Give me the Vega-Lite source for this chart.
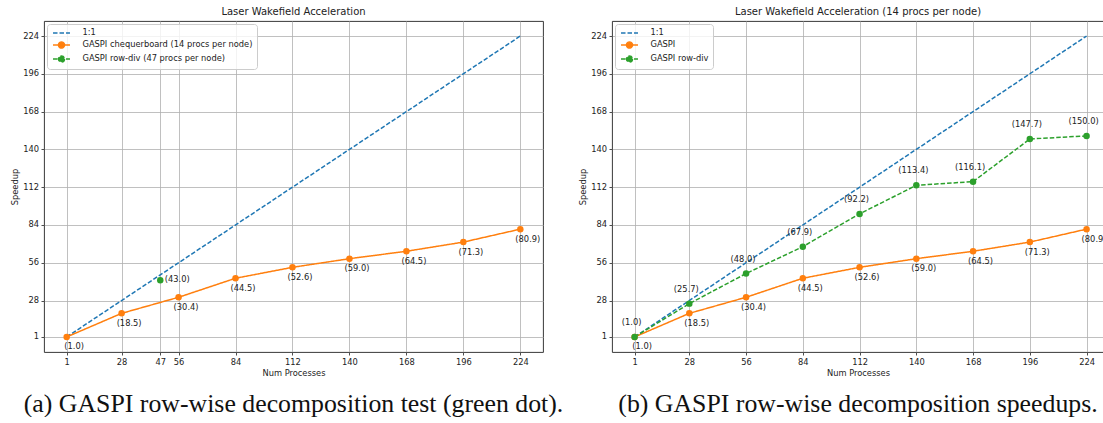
{
  "$schema": "https://vega.github.io/schema/vega-lite/v6.json",
  "padding": {"left": 10, "top": 6, "right": 0, "bottom": 0},
  "spacing": 14,
  "datasets": {
    "left": [
      {"n": 1, "speedup": 1, "series": "1:1"},
      {"n": 224, "speedup": 224, "series": "1:1"},
      {"n": 1, "speedup": 1.0, "series": "GASPI chequerboard (14 procs per node)"},
      {"n": 28, "speedup": 18.5, "series": "GASPI chequerboard (14 procs per node)"},
      {"n": 56, "speedup": 30.4, "series": "GASPI chequerboard (14 procs per node)"},
      {"n": 84, "speedup": 44.5, "series": "GASPI chequerboard (14 procs per node)"},
      {"n": 112, "speedup": 52.6, "series": "GASPI chequerboard (14 procs per node)"},
      {"n": 140, "speedup": 59.0, "series": "GASPI chequerboard (14 procs per node)"},
      {"n": 168, "speedup": 64.5, "series": "GASPI chequerboard (14 procs per node)"},
      {"n": 196, "speedup": 71.3, "series": "GASPI chequerboard (14 procs per node)"},
      {"n": 224, "speedup": 80.9, "series": "GASPI chequerboard (14 procs per node)"},
      {"n": 47, "speedup": 43.0, "series": "GASPI row-div (47 procs per node)"}
    ],
    "right": [
      {"n": 1, "speedup": 1, "series": "1:1"},
      {"n": 224, "speedup": 224, "series": "1:1"},
      {"n": 1, "speedup": 1.0, "series": "GASPI"},
      {"n": 28, "speedup": 18.5, "series": "GASPI"},
      {"n": 56, "speedup": 30.4, "series": "GASPI"},
      {"n": 84, "speedup": 44.5, "series": "GASPI"},
      {"n": 112, "speedup": 52.6, "series": "GASPI"},
      {"n": 140, "speedup": 59.0, "series": "GASPI"},
      {"n": 168, "speedup": 64.5, "series": "GASPI"},
      {"n": 196, "speedup": 71.3, "series": "GASPI"},
      {"n": 224, "speedup": 80.9, "series": "GASPI"},
      {"n": 1, "speedup": 1.0, "series": "GASPI row-div"},
      {"n": 28, "speedup": 25.7, "series": "GASPI row-div"},
      {"n": 56, "speedup": 48.0, "series": "GASPI row-div"},
      {"n": 84, "speedup": 67.9, "series": "GASPI row-div"},
      {"n": 112, "speedup": 92.2, "series": "GASPI row-div"},
      {"n": 140, "speedup": 113.4, "series": "GASPI row-div"},
      {"n": 168, "speedup": 116.1, "series": "GASPI row-div"},
      {"n": 196, "speedup": 147.7, "series": "GASPI row-div"},
      {"n": 224, "speedup": 150.0, "series": "GASPI row-div"}
    ]
  },
  "resolve": {
    "scale": {"color": "independent", "strokeDash": "independent"},
    "legend": {"color": "independent", "strokeDash": "independent"}
  },
  "hconcat": [
    {
      "spacing": 13,
      "vconcat": [
        {
          "title": "Laser Wakefield Acceleration",
          "width": 499,
          "height": 331,
          "data": {"name": "left"},
          "transform": [{"calculate": "'(' + format(datum.speedup, '.1f') + ')'", "as": "lbl"}],
          "layer": [
            {
              "mark": {"type": "line", "strokeWidth": 1.5},
              "encoding": {
                "x": {"field": "n", "type": "quantitative", "title": "Num Processes",
                      "scale": {"domain": [-10.15, 235.15], "nice": false, "zero": false},
                      "axis": {"values": [1, 28, 47, 56, 84, 112, 140, 168, 196, 224]}},
                "y": {"field": "speedup", "type": "quantitative", "title": "Speedup",
                      "scale": {"domain": [-10.15, 235.15], "nice": false, "zero": false},
                      "axis": {"values": [1, 28, 56, 84, 112, 140, 168, 196, 224]}},
                "color": {"field": "series", "type": "nominal",
                          "scale": {"domain": ["1:1", "GASPI chequerboard (14 procs per node)", "GASPI row-div (47 procs per node)"], "range": ["#1f77b4", "#ff7f0e", "#2ca02c"]},
                          "legend": {"title": null, "orient": "top-left",
                            "encode": {"symbols": {"update": {
                              "shape": {"signal": "datum.value == '1:1' ? 'M-2,0L2,0' : 'M-2,0L2,0M0.72,0A0.72,0.72,0,1,1,-0.72,0A0.72,0.72,0,1,1,0.72,0Z'"},
                              "fill": {"signal": "datum.value == '1:1' ? 'transparent' : (indexof(datum.value, 'row-div') >= 0 ? '#2ca02c' : '#ff7f0e')"},
                              "fillOpacity": {"value": 1},
                              "strokeWidth": {"value": 1.4}}}}}},
                "strokeDash": {"field": "series", "type": "nominal",
                          "scale": {"domain": ["1:1", "GASPI chequerboard (14 procs per node)", "GASPI row-div (47 procs per node)"], "range": [[4.5, 2], [1, 0], [4.5, 2]]},
                          "legend": {"title": null, "orient": "top-left"}}
              }
            },
            {
              "transform": [{"filter": "datum.series != '1:1'"}],
              "mark": {"type": "circle", "size": 42, "opacity": 1},
              "encoding": {
                "x": {"field": "n", "type": "quantitative"},
                "y": {"field": "speedup", "type": "quantitative"},
                "color": {"field": "series", "type": "nominal", "legend": null}
              }
            },
            {
              "transform": [{"filter": "indexof(datum.series, 'chequerboard') >= 0"}],
              "mark": {"type": "text", "dx": 7.5, "dy": 10.5, "align": "center", "baseline": "middle", "fontSize": 8.3, "color": "#222"},
              "encoding": {
                "x": {"field": "n", "type": "quantitative"},
                "y": {"field": "speedup", "type": "quantitative"},
                "text": {"field": "lbl"}
              }
            },
            {
              "transform": [{"filter": "indexof(datum.series, 'row-div') >= 0"}],
              "mark": {"type": "text", "dx": 4.5, "dy": 0, "align": "left", "baseline": "middle", "fontSize": 8.3, "color": "#222"},
              "encoding": {
                "x": {"field": "n", "type": "quantitative"},
                "y": {"field": "speedup", "type": "quantitative"},
                "text": {"field": "lbl"}
              }
            }
          ]
        },
        {
          "width": 499,
          "height": 20,
          "view": {"stroke": null},
          "data": {"values": [{"caption": "(a) GASPI row-wise decomposition test (green dot)."}]},
          "mark": {"type": "text", "font": "Liberation Serif", "fontSize": 25.8, "color": "#111", "align": "center", "baseline": "middle"},
          "encoding": {"text": {"field": "caption"}}
        }
      ]
    },
    {
      "spacing": 13,
      "vconcat": [
        {
          "title": "Laser Wakefield Acceleration (14 procs per node)",
          "width": 492,
          "height": 331,
          "data": {"name": "right"},
          "transform": [{"calculate": "'(' + format(datum.speedup, '.1f') + ')'", "as": "lbl"}],
          "layer": [
            {
              "mark": {"type": "line", "strokeWidth": 1.5},
              "encoding": {
                "x": {"field": "n", "type": "quantitative", "title": "Num Processes",
                      "scale": {"domain": [-10.15, 232.6], "nice": false, "zero": false},
                      "axis": {"values": [1, 28, 56, 84, 112, 140, 168, 196, 224]}},
                "y": {"field": "speedup", "type": "quantitative", "title": "Speedup",
                      "scale": {"domain": [-10.15, 235.15], "nice": false, "zero": false},
                      "axis": {"values": [1, 28, 56, 84, 112, 140, 168, 196, 224]}},
                "color": {"field": "series", "type": "nominal",
                          "scale": {"domain": ["1:1", "GASPI", "GASPI row-div"], "range": ["#1f77b4", "#ff7f0e", "#2ca02c"]},
                          "legend": {"title": null, "orient": "top-left",
                            "encode": {"symbols": {"update": {
                              "shape": {"signal": "datum.value == '1:1' ? 'M-2,0L2,0' : 'M-2,0L2,0M0.72,0A0.72,0.72,0,1,1,-0.72,0A0.72,0.72,0,1,1,0.72,0Z'"},
                              "fill": {"signal": "datum.value == '1:1' ? 'transparent' : (indexof(datum.value, 'row-div') >= 0 ? '#2ca02c' : '#ff7f0e')"},
                              "fillOpacity": {"value": 1},
                              "strokeWidth": {"value": 1.4}}}}}},
                "strokeDash": {"field": "series", "type": "nominal",
                          "scale": {"domain": ["1:1", "GASPI", "GASPI row-div"], "range": [[4.5, 2], [1, 0], [4.5, 2]]},
                          "legend": {"title": null, "orient": "top-left"}}
              }
            },
            {
              "transform": [{"filter": "datum.series != '1:1'"}],
              "mark": {"type": "circle", "size": 42, "opacity": 1},
              "encoding": {
                "x": {"field": "n", "type": "quantitative"},
                "y": {"field": "speedup", "type": "quantitative"},
                "color": {"field": "series", "type": "nominal", "legend": null}
              }
            },
            {
              "transform": [{"filter": "datum.series == 'GASPI'"}],
              "mark": {"type": "text", "dx": 7.5, "dy": 10.5, "align": "center", "baseline": "middle", "fontSize": 8.3, "color": "#222", "clip": true},
              "encoding": {
                "x": {"field": "n", "type": "quantitative"},
                "y": {"field": "speedup", "type": "quantitative"},
                "text": {"field": "lbl"}
              }
            },
            {
              "transform": [{"filter": "datum.series == 'GASPI row-div'"}],
              "mark": {"type": "text", "dx": -3, "dy": -14, "align": "center", "baseline": "middle", "fontSize": 8.3, "color": "#222", "clip": true},
              "encoding": {
                "x": {"field": "n", "type": "quantitative"},
                "y": {"field": "speedup", "type": "quantitative"},
                "text": {"field": "lbl"}
              }
            }
          ]
        },
        {
          "width": 492,
          "height": 20,
          "view": {"stroke": null},
          "data": {"values": [{"caption": "(b) GASPI row-wise decomposition speedups."}]},
          "mark": {"type": "text", "font": "Liberation Serif", "fontSize": 25.8, "color": "#111", "align": "center", "baseline": "middle"},
          "encoding": {"text": {"field": "caption"}}
        }
      ]
    }
  ],
  "config": {
    "font": "DejaVu Sans",
    "view": {"stroke": "#222", "strokeWidth": 0.9},
    "axis": {
      "domain": false,
      "labelFontSize": 8.3, "labelColor": "#222", "labelPadding": 2.5,
      "titleFontSize": 8.3, "titleFontWeight": "normal", "titleColor": "#222", "titlePadding": 3,
      "tickColor": "#222", "tickSize": 3, "tickWidth": 0.8,
      "gridColor": "#b0b0b0", "gridWidth": 0.8, "gridOpacity": 1
    },
    "title": {"fontSize": 10, "fontWeight": "normal", "color": "#222", "offset": 4},
    "legend": {
      "offset": 3, "padding": 4, "fillColor": "rgba(255,255,255,0.8)", "strokeColor": "#cccccc",
      "cornerRadius": 3, "labelFontSize": 8.3, "labelColor": "#222", "labelOffset": 16, "labelLimit": 400,
      "symbolSize": 72, "symbolOffset": 5.5, "symbolStrokeWidth": 1.4, "rowPadding": 2
    }
  }
}
